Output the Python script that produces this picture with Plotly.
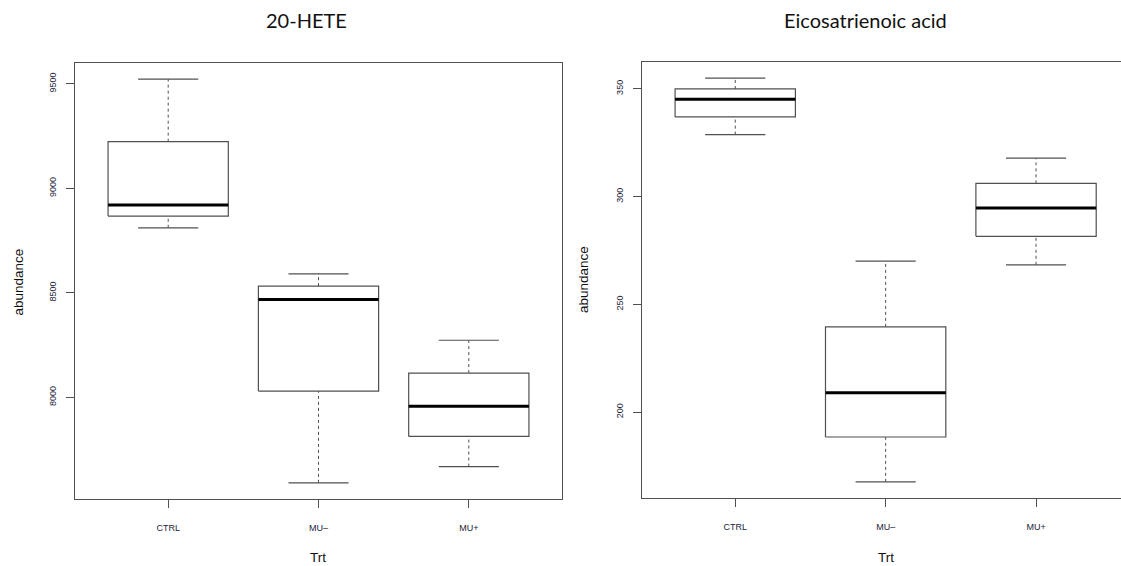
import plotly.graph_objects as go

# Treatment groups on the x axis
groups = ["CTRL", "MU\u2013", "MU+"]

# 20-HETE: whisker ends, quartiles and medians per group
hete_lower = [8811, 7591, 7669]
hete_q1 = [8867, 8030, 7813]
hete_median = [8920, 8468, 7958]
hete_q3 = [9223, 8532, 8116]
hete_upper = [9522, 8591, 8273]

# Eicosatrienoic acid: whisker ends, quartiles and medians per group
eico_lower = [328.7, 167.6, 268.3]
eico_q1 = [336.9, 188.4, 281.5]
eico_median = [345.1, 208.9, 294.6]
eico_q3 = [349.9, 239.5, 306.1]
eico_upper = [354.9, 270.0, 317.8]

hete_ticks = [8000, 8500, 9000, 9500]
eico_ticks = [200, 250, 300, 350]

W, H = 1121, 566
LINE = "#505050"
TICKFONT = dict(family="Liberation Sans, Arial, sans-serif", size=9, color="#1c2338")
LABELFONT = dict(family="Liberation Sans, Arial, sans-serif", size=13.5, color="#111111")
TITLEFONT = dict(family="Lato, Open Sans, sans-serif", size=20, color="#111111")

fig = go.Figure()


def add_boxplot(xa, ya, lower, q1, med, q3, upper):
    box_x, box_y = [], []
    med_x, med_y = [], []
    wh_x, wh_y = [], []
    cap_x, cap_y = [], []
    for i in range(len(groups)):
        c = i + 1
        box_x += [c - 0.4, c + 0.4, c + 0.4, c - 0.4, c - 0.4, None]
        box_y += [q1[i], q1[i], q3[i], q3[i], q1[i], None]
        med_x += [c - 0.4, c + 0.4, None]
        med_y += [med[i], med[i], None]
        wh_x += [c, c, None, c, c, None]
        wh_y += [q3[i], upper[i], None, lower[i], q1[i], None]
        cap_x += [c - 0.2, c + 0.2, None, c - 0.2, c + 0.2, None]
        cap_y += [upper[i], upper[i], None, lower[i], lower[i], None]
    common = dict(xaxis=xa, yaxis=ya, mode="lines", hoverinfo="skip", showlegend=False)
    fig.add_trace(go.Scatter(x=wh_x, y=wh_y, line=dict(color=LINE, width=1, dash="3px,3px"), **common))
    fig.add_trace(go.Scatter(x=cap_x, y=cap_y, line=dict(color=LINE, width=1.2), **common))
    fig.add_trace(go.Scatter(x=box_x, y=box_y, line=dict(color=LINE, width=1.2), **common))
    fig.add_trace(go.Scatter(x=med_x, y=med_y, line=dict(color="#000000", width=3), **common))


add_boxplot("x", "y", hete_lower, hete_q1, hete_median, hete_q3, hete_upper)
add_boxplot("x2", "y2", eico_lower, eico_q1, eico_median, eico_q3, eico_upper)


def pad_range(lo, hi):
    span = hi - lo
    return [lo - 0.04 * span, hi + 0.04 * span]


px_per_unit = 150.4
left_dom = [75 / W, 562 / W]
right_dom = [642 / W, 1.0]
right_end = 0.38 + (W - 642) / px_per_unit

xcommon = dict(
    tickmode="array", tickvals=[1, 2, 3], ticktext=groups,
    showline=True, mirror=True, linecolor=LINE, linewidth=1.2,
    ticks="outside", ticklen=8, tickcolor=LINE, tickwidth=1.2,
    tickfont=TICKFONT, ticklabelstandoff=12,
    showgrid=False, zeroline=False, fixedrange=True,
)
ycommon = dict(
    tickmode="array", showline=True, linecolor=LINE, linewidth=1.2,
    ticks="outside", ticklen=8, tickcolor=LINE, tickwidth=1.2,
    tickfont=TICKFONT, tickangle=-90, ticklabelstandoff=6,
    showgrid=False, zeroline=False, fixedrange=True,
)

fig.update_layout(
    width=W, height=H,
    margin=dict(l=0, r=0, t=0, b=0),
    paper_bgcolor="white", plot_bgcolor="white",
    xaxis=dict(domain=left_dom, range=[0.38, 3.62], anchor="y", **xcommon),
    yaxis=dict(domain=[1 - 499 / H, 1 - 63 / H], anchor="x", mirror=True,
               range=pad_range(min(hete_lower), max(hete_upper)),
               tickvals=hete_ticks, ticktext=[str(t) for t in hete_ticks], **ycommon),
    xaxis2=dict(domain=right_dom, range=[0.38, right_end], anchor="y2", **xcommon),
    yaxis2=dict(domain=[1 - 498 / H, 1 - 62 / H], anchor="x2", mirror=False,
                range=pad_range(min(eico_lower), max(eico_upper)),
                tickvals=eico_ticks, ticktext=[str(t) for t in eico_ticks], **ycommon),
)

annotations = [
    dict(text="20-HETE", x=306, y=20, font=TITLEFONT),
    dict(text="Eicosatrienoic acid", x=866, y=20, font=TITLEFONT),
    dict(text="Trt", x=318, y=557, font=LABELFONT),
    dict(text="Trt", x=886, y=557, font=LABELFONT),
    dict(text="abundance", x=17.5, y=282, font=LABELFONT, textangle=-90),
    dict(text="abundance", x=583, y=280, font=LABELFONT, textangle=-90),
]
for a in annotations:
    fig.add_annotation(
        text=a["text"], x=a["x"] / W, y=1 - a["y"] / H,
        xref="paper", yref="paper", xanchor="center", yanchor="middle",
        showarrow=False, font=a["font"], textangle=a.get("textangle", 0),
    )

fig.write_html("out.html")
